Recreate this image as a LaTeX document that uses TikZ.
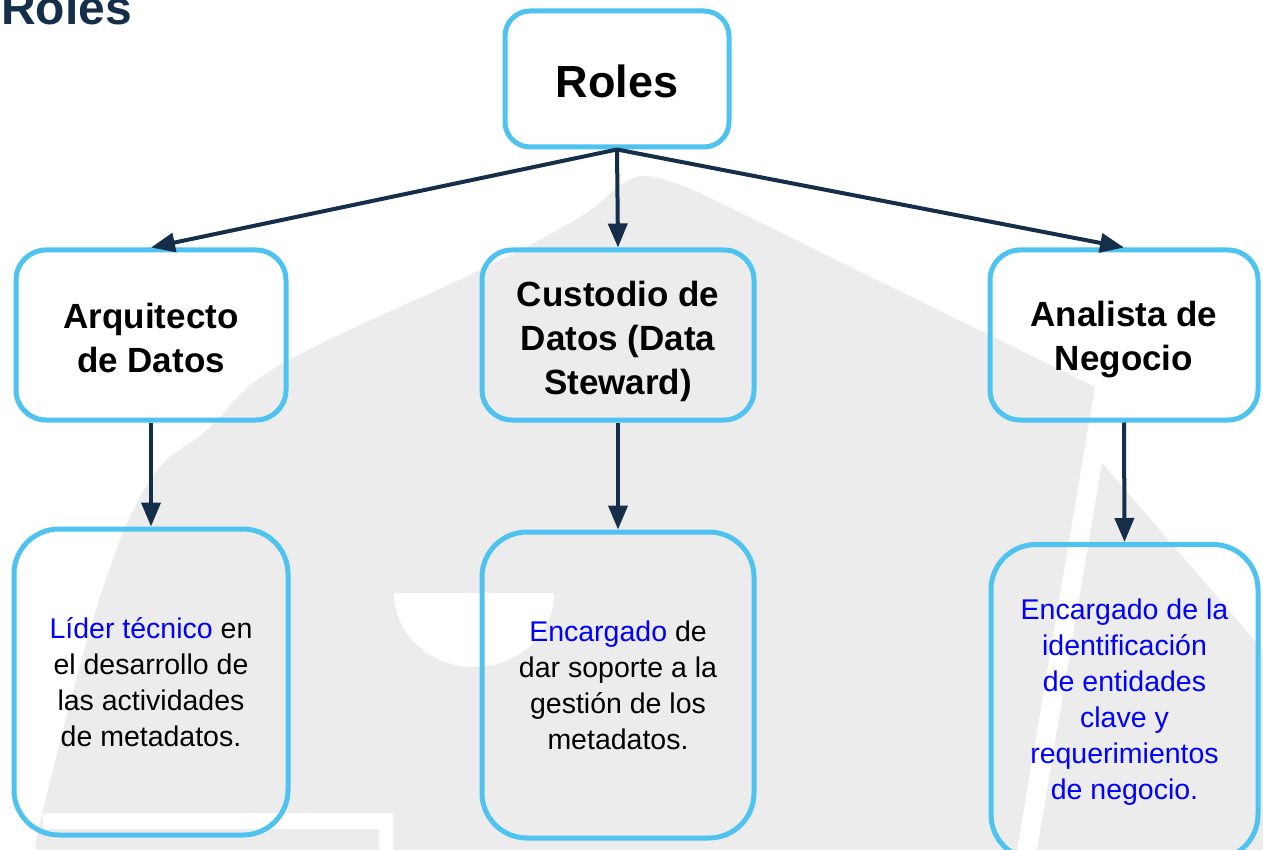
\documentclass[tikz,border=0pt]{standalone}
\usepackage{fontspec}
\setmainfont{Liberation Sans}
\usetikzlibrary{arrows.meta}
\definecolor{boxblue}{HTML}{4FC3F0}
\definecolor{navy}{HTML}{152E4A}
\definecolor{wm}{HTML}{ECECEC}
\definecolor{txtblue}{HTML}{0000FF}
\begin{document}
\begin{tikzpicture}[x=1pt,y=-1pt,
  box/.style={draw=boxblue, line width=5pt, rounded corners=30pt, inner sep=0pt, align=center},
  headtext/.style={inner sep=0pt, align=center, font=\fontsize{35}{44}\selectfont\bfseries},
  desc/.style={box, rounded corners=45pt, font=\fontsize{28.5}{36}\selectfont},
  conn/.style={draw=navy, line width=4pt, -{Triangle[length=24pt,width=19pt]}}]
\useasboundingbox (0,0) rectangle (1263,850);
\fill[white] (0,0) rectangle (1263,850);
% watermark
\fill[wm] plot[smooth, tension=0.6] coordinates {(36,850) (43,810) (99,600) (150,480) (207,430) (280,365) (480,270) (580,217) (625,182) (655,177) (700,193)} -- (1095,387) -- (1017,850) -- cycle;
\fill[white] (394,593) arc[start angle=180, end angle=0, x radius=80, y radius=74] -- cycle;
\fill[white] (43,813) rectangle (393,829);
\fill[white] (379,813) rectangle (393,850);
\fill[wm] (1037,850) -- (1102,463) -- (1263,650) -- (1263,850) -- cycle;
% title
\node[anchor=base west, font=\fontsize{48}{48}\selectfont\bfseries, text=navy, inner sep=0pt] (title) at (1,25) {Roles};
% boxes
\node[box, rounded corners=25pt, minimum width=224pt, minimum height=136pt] (roles) at (617,79) {};
\node[inner sep=0pt, font=\fontsize{45}{50}\selectfont\bfseries] (rolest) at ([yshift=-2pt]roles.center) {Roles};
\node[box, minimum width=270pt, minimum height=170pt] (arq) at (151,335) {};
\node[headtext] (arqt) at ([yshift=-2.5pt]arq.center) {Arquitecto\\de Datos};
\node[box, minimum width=272pt, minimum height=170pt] (cus) at (618,335) {};
\node[headtext] (cust) at ([yshift=-6pt]cus.center) {Custodio de\\Datos (Data\\Steward)};
\node[box, minimum width=268pt, minimum height=170pt] (ana) at (1124,335) {};
\node[headtext] (anat) at ([yshift=-5pt]ana.center) {Analista de\\Negocio};
\node[desc, minimum width=274pt, minimum height=306pt] (d1) at (151,682) {\textcolor{txtblue}{Líder técnico} en\\el desarrollo de\\las actividades\\de metadatos.};
\node[desc, minimum width=272pt, minimum height=306pt] (d2) at (618,685) {\textcolor{txtblue}{Encargado} de\\dar soporte a la\\gestión de los\\metadatos.};
\node[desc, text=txtblue, minimum width=267pt, minimum height=315pt] (d3) at (1124.5,702) {Encargado de la\\identificación\\de entidades\\clave y\\requerimientos\\de negocio.};
% connectors
\draw[conn] (roles.south) -- (arq.north);
\draw[conn] (roles.south) -- (cus.north);
\draw[conn] (roles.south) -- (ana.north);
\draw[conn] (arq.south) -- (d1.north);
\draw[conn] (cus.south) -- (d2.north);
\draw[conn] (ana.south) -- (d3.north);
\end{tikzpicture}
\end{document}
